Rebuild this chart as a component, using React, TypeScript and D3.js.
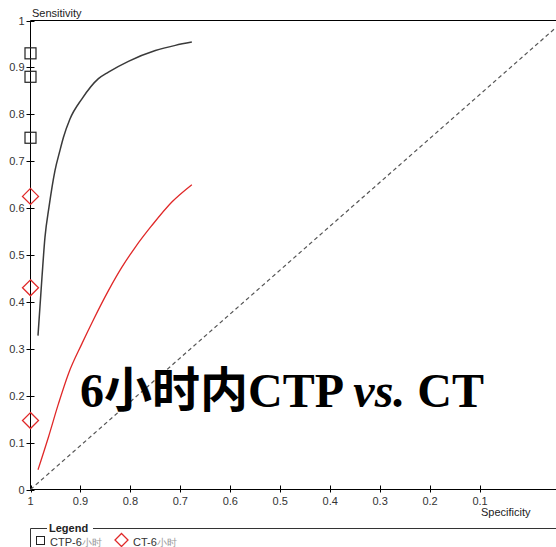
import React from "react";
import * as d3 from "d3";

// ROC curves (specificity, sensitivity)
const CTP_SPEC = [0.985, 0.977, 0.971, 0.963, 0.951, 0.941, 0.934, 0.921, 0.897, 0.864, 0.844, 0.804, 0.75, 0.71, 0.677];
const CTP_SENS = [0.328, 0.453, 0.538, 0.602, 0.68, 0.723, 0.751, 0.79, 0.833, 0.876, 0.89, 0.913, 0.936, 0.947, 0.954];
const CT_SPEC = [0.985, 0.964, 0.944, 0.924, 0.897, 0.874, 0.844, 0.817, 0.79, 0.757, 0.717, 0.677];
const CT_SENS = [0.042, 0.112, 0.183, 0.247, 0.311, 0.362, 0.424, 0.474, 0.517, 0.563, 0.613, 0.65];

// markers sitting on the sensitivity axis (specificity = 1)
const CTP_MARKERS = [0.93, 0.88, 0.75];
const CT_MARKERS = [0.625, 0.43, 0.147];

const X_TICKS = [1, 0.9, 0.8, 0.7, 0.6, 0.5, 0.4, 0.3, 0.2, 0.1];
const Y_TICKS = [0, 0.1, 0.2, 0.3, 0.4, 0.5, 0.6, 0.7, 0.8, 0.9, 1];

// reference diagonal runs corner to corner of the (cropped) plot area
const DIAG_SPEC = [1, -0.068];
const DIAG_SENS = [0, 1];

const W = 556;
const H = 547;
const FONT = "'Liberation Sans', Arial, sans-serif";

export default function App() {
  const x = d3.scaleLinear().domain([1, 0]).range([30.5, 530]);
  const y = d3.scaleLinear().domain([0, 1]).range([489.5, 20.5]);

  const line = d3
    .line<[number, number]>()
    .x((d) => x(d[0]))
    .y((d) => y(d[1]))
    .curve(d3.curveMonotoneX);

  const ctpPath = line(CTP_SPEC.map((s, i) => [s, CTP_SENS[i]])) || "";
  const ctPath = line(CT_SPEC.map((s, i) => [s, CT_SENS[i]])) || "";
  const diagPath = d3.line<[number, number]>().x((d) => x(d[0])).y((d) => y(d[1]))(
    DIAG_SPEC.map((s, i) => [s, DIAG_SENS[i]])
  ) || "";

  const x0 = x(1);
  const y0 = y(0);

  return (
    <svg width={W} height={H} style={{ position: "absolute", left: 0, top: 0, background: "#fff" }}>
      {/* frame: top border, left and bottom axes */}
      <line x1={x0} x2={W} y1={y(1)} y2={y(1)} stroke="#000" />
      <line x1={x0} x2={x0} y1={y(1)} y2={y0} stroke="#000" />
      <line x1={x0} x2={W} y1={y0} y2={y0} stroke="#000" />

      {/* y ticks */}
      {Y_TICKS.map((t) => (
        <g key={"y" + t}>
          <line x1={x0 - 4} x2={x0 + 4} y1={Math.round(y(t)) + 0.5} y2={Math.round(y(t)) + 0.5} stroke="#000" />
          <text x={x0 - 6} y={y(t) + 4} textAnchor="end" fontSize={11} fill="#333" fontFamily={FONT}>
            {String(t)}
          </text>
        </g>
      ))}

      {/* x ticks */}
      {X_TICKS.map((t) => (
        <g key={"x" + t}>
          <line x1={Math.round(x(t)) + 0.5} x2={Math.round(x(t)) + 0.5} y1={y0 - 4} y2={y0 + 3} stroke="#000" />
          <text x={x(t)} y={y0 + 15} textAnchor="middle" fontSize={11} fill="#333" fontFamily={FONT}>
            {String(t)}
          </text>
        </g>
      ))}

      <text x={32} y={17} fontSize={11} fill="#222" fontFamily={FONT}>Sensitivity</text>
      <text x={481} y={516} fontSize={11} fill="#222" fontFamily={FONT}>Specificity</text>

      {/* diagonal */}
      <path d={diagPath} fill="none" stroke="#555" strokeWidth={1.2} strokeDasharray="4,3" />

      {/* curves */}
      <path d={ctpPath} fill="none" stroke="#3a3a3a" strokeWidth={1.5} />
      <path d={ctPath} fill="none" stroke="#e02828" strokeWidth={1.3} />

      {/* markers */}
      {CTP_MARKERS.map((v) => (
        <rect key={"s" + v} x={x(1) - 5.5} y={y(v) - 5.5} width={11} height={11} fill="none" stroke="#222" strokeWidth={1.2} />
      ))}
      {CT_MARKERS.map((v) => (
        <path
          key={"d" + v}
          d={`M${x(1)},${y(v) - 8} L${x(1) + 8},${y(v)} L${x(1)},${y(v) + 8} L${x(1) - 8},${y(v)} Z`}
          fill="none"
          stroke="#e02828"
          strokeWidth={1.3}
        />
      ))}

      {/* overlay title */}
      <text
        x={80}
        y={407}
        fontSize={48}
        fontWeight={700}
        fill="#000"
        fontFamily="'Liberation Serif', 'Noto Sans CJK SC', serif"
      >
        6小时内CTP <tspan fontStyle="italic">vs.</tspan> CT
      </text>

      {/* legend */}
      <path d={`M${x0},${H} V528.5 H47`} fill="none" stroke="#333" />
      <line x1={93} x2={W} y1={528.5} y2={528.5} stroke="#333" />
      <text x={49} y={532} fontSize={11} fontWeight={700} fill="#222" fontFamily={FONT}>Legend</text>
      <rect x={36.5} y={536.5} width={8} height={8} fill="none" stroke="#222" />
      <text x={50} y={546} fontSize={11} fill="#333" fontFamily={FONT}>
        CTP-6<tspan fill="#999" fontSize={10}>小时</tspan>
      </text>
      <path d="M121.5,533.5 L128,540 L121.5,546.5 L115,540 Z" fill="none" stroke="#e02828" strokeWidth={1.3} />
      <text x={133} y={546} fontSize={11} fill="#333" fontFamily={FONT}>
        CT-6<tspan fill="#999" fontSize={10}>小时</tspan>
      </text>
    </svg>
  );
}
